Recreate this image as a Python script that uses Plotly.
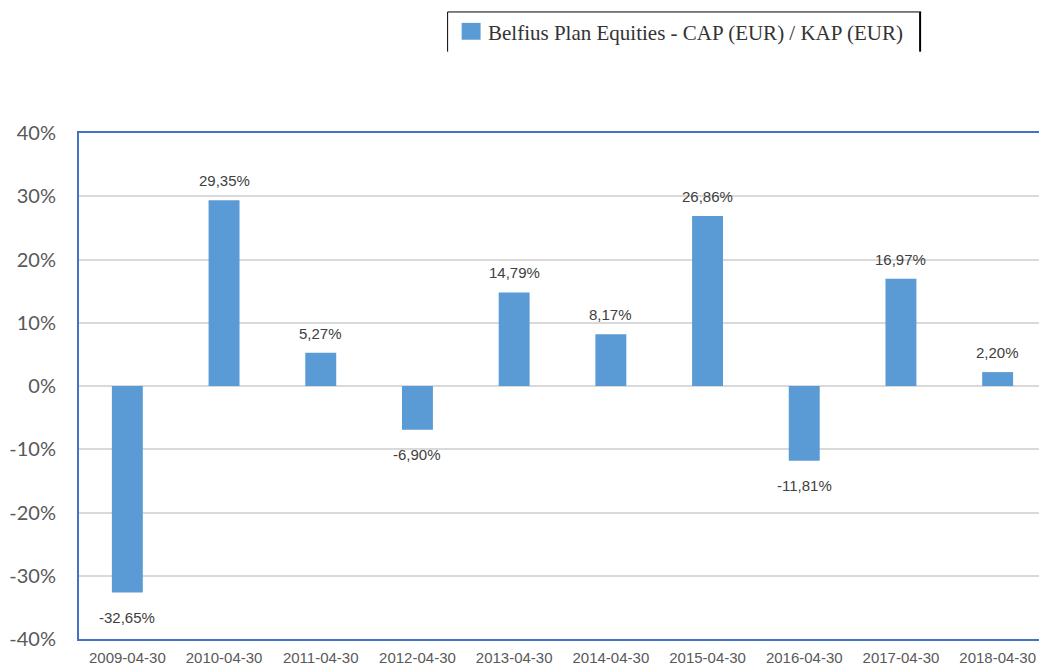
import plotly.graph_objects as go

categories = ["2009-04-30", "2010-04-30", "2011-04-30", "2012-04-30", "2013-04-30",
              "2014-04-30", "2015-04-30", "2016-04-30", "2017-04-30", "2018-04-30"]
returns_pct = [-32.65, 29.35, 5.27, -6.90, 14.79, 8.17, 26.86, -11.81, 16.97, 2.20]
series_name = "Belfius Plan Equities - CAP (EUR) / KAP (EUR)"
y_ticks = [-40, -30, -20, -10, 0, 10, 20, 30, 40]
y_tick_labels = ["-40%", "-30%", "-20%", "-10%", "0%", "10%", "20%", "30%", "40%"]

BAR = "#5B9BD5"
AXIS = "#4472C4"

fig = go.Figure()
fig.add_trace(go.Bar(
    x=categories, y=returns_pct, name=series_name,
    marker=dict(color=BAR, line=dict(width=0)),
    width=0.32, showlegend=False,
))

def fmt(v):
    return f"{v:.2f}%".replace(".", ",")

for c, v in zip(categories, returns_pct):
    fig.add_annotation(
        x=c, y=v, xref="x", yref="y", text=fmt(v), showarrow=False,
        yanchor="bottom" if v >= 0 else "top",
        yshift=9 if v >= 0 else -14,
        font=dict(family="Liberation Sans, Arial", size=15, color="#404040"),
    )

# manual legend (paper coords relative to the 968x510 plot area)
H, T, B = 659, 125, 24
PH = H - T - B
def py(px_from_top):
    return ((H - B) - px_from_top) / PH

fig.add_shape(type="rect", xref="paper", yref="paper",
              x0=0.3957, x1=0.4153, y0=py(31), y1=py(14),
              fillcolor=BAR, line=dict(width=0))
fig.add_annotation(xref="paper", yref="paper", x=0.4205, y=py(24),
                   xanchor="left", yanchor="middle", showarrow=False,
                   text=series_name,
                   font=dict(family="Liberation Serif, Times New Roman", size=21, color="#333333"))
fig.add_shape(type="line", xref="paper", yref="paper", x0=0.3812, x1=0.8709, y0=py(3), y1=py(3),
              line=dict(color="black", width=1))
fig.add_shape(type="line", xref="paper", yref="paper", x0=0.3812, x1=0.3812, y0=py(3), y1=py(43),
              line=dict(color="black", width=1))
fig.add_shape(type="line", xref="paper", yref="paper", x0=0.8698, x1=0.8698, y0=py(3), y1=py(43),
              line=dict(color="black", width=2))

fig.update_layout(
    width=1039, height=H,
    margin=dict(l=70, r=1, t=T, b=B),
    paper_bgcolor="white", plot_bgcolor="white",
    xaxis=dict(
        type="category", showline=True, linecolor=AXIS, linewidth=2, mirror=True,
        showgrid=False, ticks="", ticklabelstandoff=4,
        tickfont=dict(family="Liberation Sans, Arial", size=15, color="#595959"),
    ),
    yaxis=dict(
        range=[-40, 40], tickvals=y_ticks, ticktext=y_tick_labels,
        showline=True, linecolor=AXIS, linewidth=2, mirror=False,
        showgrid=True, gridcolor="#D9D9D9", gridwidth=2,
        zeroline=True, zerolinecolor="#D9D9D9", zerolinewidth=2,
        ticks="", ticklabelstandoff=17,
        tickfont=dict(family="Lato, Open Sans", size=20, color="#595959"),
    ),
)

fig.write_html("out.html")
